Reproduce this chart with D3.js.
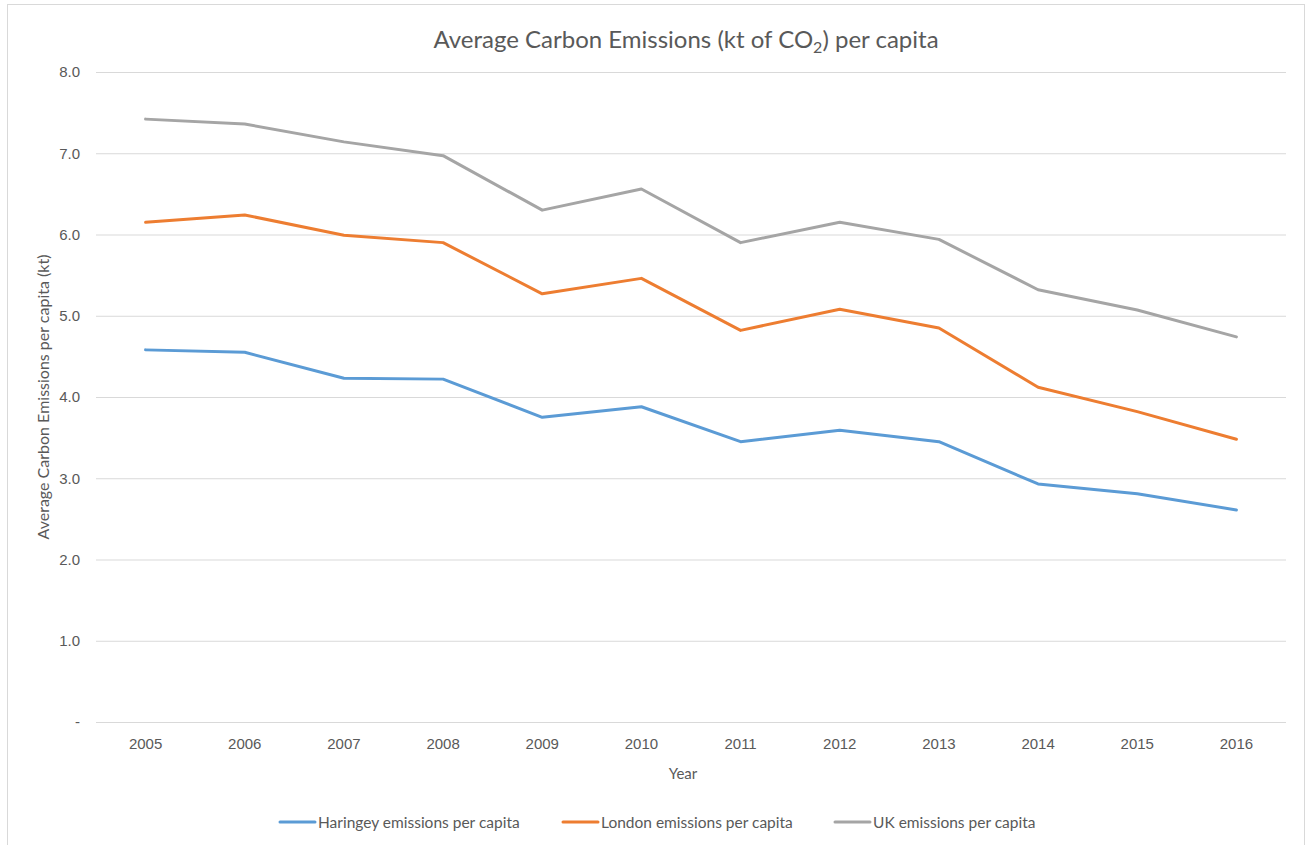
<!DOCTYPE html>
<html>
<head>
<meta charset="utf-8">
<script src="https://cdn.jsdelivr.net/npm/d3@7"></script>
<style>
  html, body { margin: 0; padding: 0; background: #fff; }
  svg { display: block; font-family: Lato, "Open Sans", "Noto Sans", sans-serif; }
</style>
</head>
<body>
<svg id="chart" width="1308" height="845"></svg>
<script>
// Annual per-capita carbon emissions (kt CO2)
const years = ["2005","2006","2007","2008","2009","2010","2011","2012","2013","2014","2015","2016"];
const haringey = [4.58, 4.55, 4.23, 4.22, 3.75, 3.88, 3.45, 3.59, 3.45, 2.93, 2.81, 2.61];
const london   = [6.15, 6.24, 5.99, 5.90, 5.27, 5.46, 4.82, 5.08, 4.85, 4.12, 3.82, 3.48];
const uk       = [7.42, 7.36, 7.14, 6.97, 6.30, 6.56, 5.90, 6.15, 5.94, 5.32, 5.07, 4.74];
const seriesNames = ["Haringey emissions per capita", "London emissions per capita", "UK emissions per capita"];
const seriesColors = ["#5B9BD5", "#ED7D31", "#A5A5A5"];
const yTicks = [0, 1, 2, 3, 4, 5, 6, 7, 8];

const series = [haringey, london, uk].map((values, i) => ({
  name: seriesNames[i], color: seriesColors[i], values
}));

const svg = d3.select("#chart");
const plot = { left: 96, right: 1286, top: 72, bottom: 722 };
const textColor = "#595959";

// chart frame
svg.append("rect")
  .attr("x", 7.5).attr("y", 4.5)
  .attr("width", 1297).attr("height", 860)
  .attr("fill", "#fff").attr("stroke", "#d9d9d9").attr("stroke-width", 1);

const x = d3.scaleBand().domain(years).range([plot.left, plot.right]);
const y = d3.scaleLinear().domain([0, 8]).range([plot.bottom, plot.top]);

// horizontal gridlines and y tick labels
const yAxis = d3.axisLeft(y)
  .tickValues(yTicks)
  .tickSize(-(plot.right - plot.left))
  .tickPadding(16)
  .tickFormat(d => d === 0 ? "-" : d3.format(".1f")(d));

const gy = svg.append("g")
  .attr("transform", `translate(${plot.left},0)`)
  .call(yAxis);
gy.select(".domain").remove();
gy.selectAll(".tick line").attr("stroke", "#d9d9d9").attr("stroke-width", 1);
gy.selectAll(".tick text")
  .attr("fill", textColor).attr("font-size", 15);

// x axis labels
const xAxis = d3.axisBottom(x).tickSize(0).tickPadding(16);
const gx = svg.append("g")
  .attr("transform", `translate(0,${plot.bottom})`)
  .call(xAxis);
gx.select(".domain").remove();
gx.selectAll(".tick text")
  .attr("fill", textColor).attr("font-size", 15);

// series lines
const line = d3.line()
  .x((d, i) => x(years[i]) + x.bandwidth() / 2)
  .y(d => y(d));

svg.append("g").selectAll("path")
  .data(series)
  .join("path")
  .attr("d", d => line(d.values))
  .attr("fill", "none")
  .attr("stroke", d => d.color)
  .attr("stroke-width", 3)
  .attr("stroke-linejoin", "round")
  .attr("stroke-linecap", "round");

// title with subscript
const title = svg.append("text")
  .attr("x", 686).attr("y", 48)
  .attr("text-anchor", "middle")
  .attr("fill", textColor).attr("font-size", 24);
title.append("tspan").text("Average Carbon Emissions (kt of CO");
title.append("tspan").attr("font-size", 16).attr("dy", 5).text("2");
title.append("tspan").attr("dy", -5).text(") per capita");

// axis titles
svg.append("text")
  .attr("transform", `translate(49,${(plot.top + plot.bottom) / 2}) rotate(-90)`)
  .attr("text-anchor", "middle")
  .attr("fill", textColor).attr("font-size", 16)
  .text("Average Carbon Emissions per capita (kt)");

svg.append("text")
  .attr("x", 683).attr("y", 779)
  .attr("text-anchor", "middle")
  .attr("fill", textColor).attr("font-size", 15)
  .text("Year");

// legend
const legendX = [280, 563, 835];
const lg = svg.append("g").selectAll("g")
  .data(series)
  .join("g")
  .attr("transform", (d, i) => `translate(${legendX[i]},822)`);
lg.append("line")
  .attr("x1", 0).attr("x2", 35).attr("y1", 0).attr("y2", 0)
  .attr("stroke", d => d.color).attr("stroke-width", 3)
  .attr("stroke-linecap", "round");
lg.append("text")
  .attr("x", 38).attr("y", 5.5)
  .attr("fill", textColor).attr("font-size", 15.5)
  .text(d => d.name);
</script>
</body>
</html>
